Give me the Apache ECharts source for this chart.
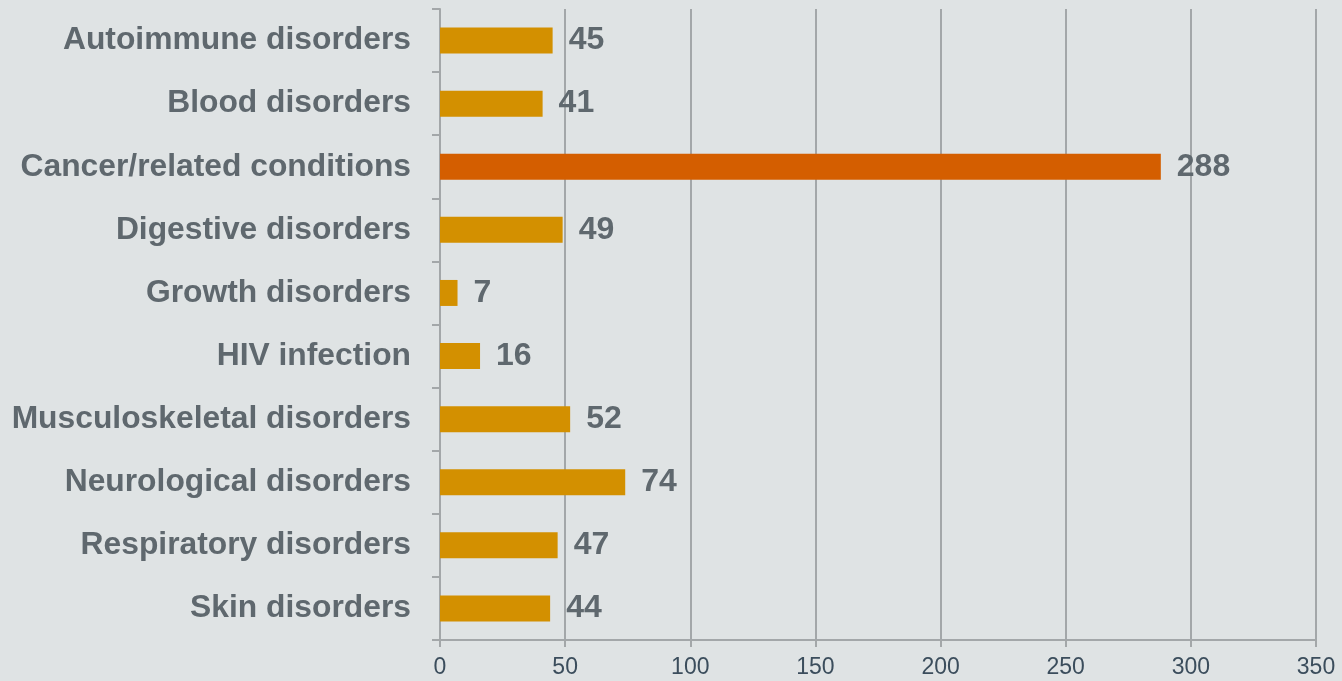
<!DOCTYPE html>
<html><head><meta charset="utf-8">
<script src="https://cdn.jsdelivr.net/npm/echarts@6/dist/echarts.min.js"></script>
<style>html,body{margin:0;padding:0;background:#dfe3e4;}#c{width:1342px;height:681px;}</style>
</head><body><div id="c"></div>
<script>
var categories = ["Autoimmune disorders","Blood disorders","Cancer/related conditions","Digestive disorders","Growth disorders","HIV infection","Musculoskeletal disorders","Neurological disorders","Respiratory disorders","Skin disorders"];
var values = [45,41,288,49,7,16,52,74,47,44];
var highlight = "Cancer/related conditions";
var chart = echarts.init(document.getElementById('c'));
chart.setOption({
  backgroundColor:'#dfe3e4',
  animation:false,
  grid:{left:440,right:26,top:9,bottom:41,containLabel:false},
  xAxis:{type:'value',min:0,max:350,interval:50,
    axisLine:{show:true,lineStyle:{color:'#a3a7a9',width:2}},
    axisTick:{show:true,length:7,lineStyle:{color:'#a3a7a9',width:2}},
    splitLine:{show:true,lineStyle:{color:'#a3a7a9',width:2}},
    axisLabel:{color:'#3b4d5c',fontSize:23,fontFamily:'Liberation Sans, Arial',margin:16}},
  yAxis:{type:'category',data:categories,inverse:true,
    axisLine:{show:true,lineStyle:{color:'#a3a7a9',width:2}},
    axisTick:{show:true,length:8,lineStyle:{color:'#a3a7a9',width:2}},
    axisLabel:{color:'#5f686e',fontSize:31.8,fontWeight:'bold',fontFamily:'Liberation Sans, Arial',margin:29,padding:[7,0,0,0]}},
  series:[{type:'bar',barWidth:26,
    data:values.map(function(v,i){return {value:v,itemStyle:{color:categories[i]===highlight?'#d45e00':'#d39000'}};}),
    label:{show:true,position:'right',distance:16,color:'#5f686e',fontSize:32,fontWeight:'bold',fontFamily:'Liberation Sans, Arial',padding:[7,0,0,0]}}]
});
</script></body></html>
